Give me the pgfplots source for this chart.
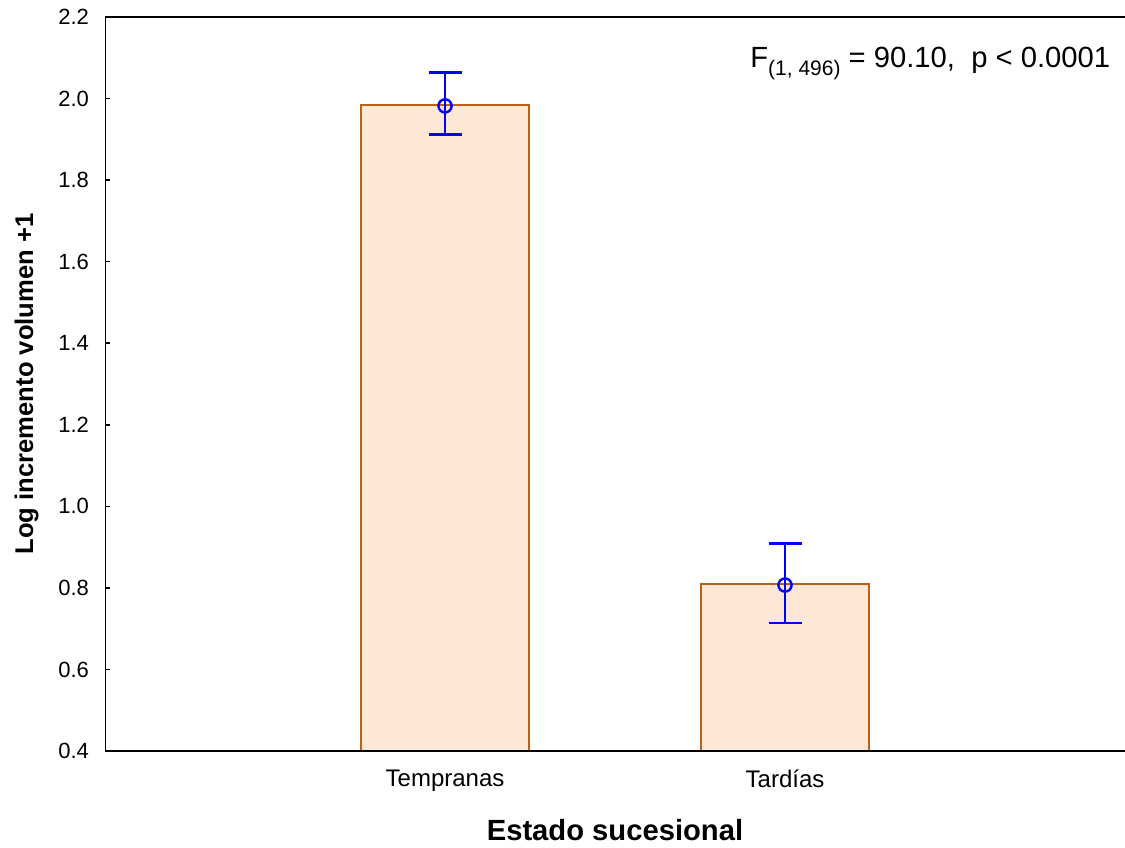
\documentclass[border=0pt]{standalone}
\usepackage{pgfplots}
\pgfplotsset{compat=1.18}
\pgfplotsset{/pgf/number format/assume math mode=true}
\usepackage{fontspec}
\setmainfont{Liberation Sans}
\definecolor{barfill}{RGB}{253,231,214}
\definecolor{baredge}{RGB}{190,96,20}
\definecolor{errblue}{RGB}{0,0,255}
\begin{document}
\begin{tikzpicture}
\useasboundingbox (-52.5pt,-48pt) rectangle (510pt,375.5pt);
\begin{axis}[
  at={(0,0)}, anchor=south west,
  scale only axis,
  width=510pt, height=367pt,
  xmin=0, xmax=3,
  ymin=0.4, ymax=2.2,
  axis line style={draw=none},
  xtick={1,2},
  xticklabels={Tempranas, Tardías},
  ytick={0.4,0.6,...,2.2},
  xtick pos=bottom, ytick pos=left,
  tick align=inside,
  major tick length=2.5pt,
  tick style={line width=0.8pt, black},
  yticklabel style={xshift=-4.5pt},
  y tick label style={/pgf/number format/fixed, /pgf/number format/zerofill, /pgf/number format/precision=1},
  y tick label style={font=\fontsize{11}{12}\selectfont},
  x tick label style={font=\fontsize{12}{14}\selectfont, yshift=-6pt},
  xlabel={\textbf{Estado sucesional}},
  ylabel={\textbf{Log incremento volumen +1}},
  xlabel style={font=\fontsize{14.6}{16}\selectfont, yshift=-7pt},
  ylabel style={font=\fontsize{12.8}{14}\selectfont, yshift=3pt},
  clip=true,
]
% bars (means)
\addplot[ybar, bar width=0.495, fill=barfill, draw=baredge, line width=1pt]
  coordinates {(1,1.984) (2,0.810)};
% means with error bars
\addplot[errblue, only marks, mark=o, mark size=3.3pt, line width=1.2pt,
  mark options={line width=1.2pt},
  error bars/.cd, y dir=both, y explicit,
  error mark=-,
  error mark options={rotate=90, mark size=8.25pt, line width=1.4pt, errblue},
  error bar style={line width=1.4pt, errblue}]
  coordinates {(1,1.982) += (0,0.081) -= (0,0.071)
               (2,0.807) += (0,0.101) -= (0,0.093)};
% frame: left, bottom and top edges
\draw[line width=1pt] (rel axis cs:1,1) -- (rel axis cs:0,1)
  -- (rel axis cs:0,0) -- (rel axis cs:1,0);
\node[anchor=base east, font=\fontsize{14.6}{16}\selectfont]
  at (axis cs:2.977,2.077)
  {F\raisebox{-0.55ex}{\fontsize{10.5}{12}\selectfont (1, 496)} = 90.10,\ \ p < 0.0001};
\end{axis}
\end{tikzpicture}
\end{document}
